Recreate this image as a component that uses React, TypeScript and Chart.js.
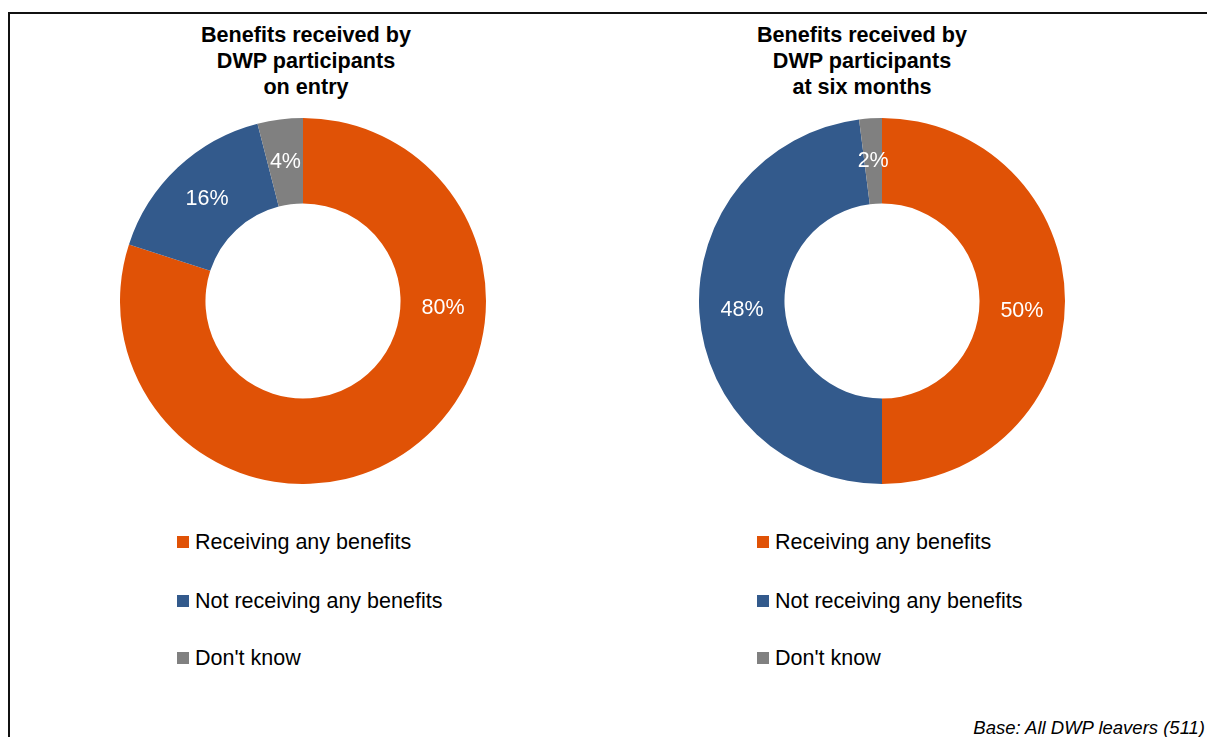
import React, { useEffect, useRef } from "react";
import { Chart, registerables } from "chart.js";
Chart.register(...registerables);

const categories = ["Receiving any benefits", "Not receiving any benefits", "Don't know"];
const onEntryValues = [80, 16, 4];
const sixMonthValues = [50, 48, 2];
const sliceColors = ["#E05206", "#335A8C", "#808080"];
const leftTitle = ["Benefits received by", "DWP participants", "on entry"];
const rightTitle = ["Benefits received by", "DWP participants", "at six months"];
const footnote = "Base: All DWP leavers (511)";

const FONT = "'Liberation Sans', Arial, Helvetica, sans-serif";

const pctLabels = {
  id: "pctLabels",
  afterDatasetsDraw(chart: any, _args: any, opts: any) {
    const ctx = chart.ctx;
    const meta = chart.getDatasetMeta(0);
    const data = chart.data.datasets[0].data;
    ctx.save();
    ctx.font = `21.5px ${FONT}`;
    ctx.fillStyle = "#ffffff";
    ctx.textAlign = "center";
    ctx.textBaseline = "middle";
    meta.data.forEach((arc: any, i: number) => {
      let { x, y } = arc.tooltipPosition();
      const ov = opts && opts.angles ? opts.angles[i] : null;
      if (ov != null) {
        const r = (arc.innerRadius + arc.outerRadius) / 2;
        const a = ((ov - 90) * Math.PI) / 180;
        x = arc.x + r * Math.cos(a);
        y = arc.y + r * Math.sin(a);
      }
      ctx.fillText(`${data[i]}%`, x, y);
    });
    ctx.restore();
  },
};

function Donut({ values, left, top, angles }: { values: number[]; left: number; top: number; angles: (number | null)[] }) {
  const ref = useRef<HTMLCanvasElement>(null);
  useEffect(() => {
    if (!ref.current) return;
    const chart = new Chart(ref.current, {
      type: "doughnut",
      data: {
        labels: categories,
        datasets: [
          {
            data: values,
            backgroundColor: sliceColors,
            borderWidth: 0,
          },
        ],
      },
      options: {
        responsive: false,
        maintainAspectRatio: false,
        animation: false,
        cutout: "53.3%",
        layout: { padding: 0 },
        plugins: {
          legend: { display: false },
          tooltip: { enabled: false },
          title: { display: false },
          pctLabels: { angles },
        } as any,
      },
      plugins: [pctLabels],
    });
    return () => chart.destroy();
  }, []);
  return (
    <canvas
      ref={ref}
      width={366}
      height={366}
      style={{ position: "absolute", left, top, width: 366, height: 366 }}
    />
  );
}

function Title({ lines, center }: { lines: string[]; center: number }) {
  return (
    <div
      style={{
        position: "absolute",
        left: center - 200,
        width: 400,
        top: 14,
        textAlign: "center",
        fontWeight: "bold",
        fontSize: "21.6px",
        lineHeight: "26px",
        color: "#000",
      }}
    >
      {lines.map((l, i) => (
        <div key={i}>{l}</div>
      ))}
    </div>
  );
}

function Legend({ left }: { left: number }) {
  const rows = [534, 593, 650];
  return (
    <>
      {categories.map((c, i) => (
        <div
          key={c}
          style={{
            position: "absolute",
            left,
            top: rows[i] - 13,
            height: 26,
            display: "flex",
            alignItems: "center",
            whiteSpace: "nowrap",
            fontSize: "21.5px",
            color: "#000",
          }}
        >
          <span
            style={{
              display: "inline-block",
              width: 12,
              height: 12,
              background: sliceColors[i],
              marginRight: 6,
            }}
          />
          <span>{c}</span>
        </div>
      ))}
    </>
  );
}

export default function App() {
  return (
    <div
      style={{
        position: "fixed",
        left: 0,
        top: 0,
        width: 1207,
        height: 737,
        overflow: "hidden",
        fontFamily: FONT,
        background: "#fff",
      }}
    >
      <div style={{ position: "absolute", left: 8, top: 8, width: 1199, height: 729 }}>
        <div
          style={{
            position: "absolute",
            left: 0,
            top: 4,
            width: 1210,
            height: 740,
            borderLeft: "2px solid #111",
            borderTop: "2px solid #111",
          }}
        />
        <Title lines={leftTitle} center={298} />
        <Title lines={rightTitle} center={854} />
        <Donut values={onEntryValues} left={112} top={110} angles={[93, null, null]} />
        <Donut values={sixMonthValues} left={691} top={110} angles={[94, null, null]} />
        <Legend left={169} />
        <Legend left={749} />
        <div
          style={{
            position: "absolute",
            right: 2,
            top: 710,
            fontStyle: "italic",
            fontSize: "18.5px",
            lineHeight: "20px",
            whiteSpace: "nowrap",
            color: "#000",
          }}
        >
          {footnote}
        </div>
      </div>
    </div>
  );
}
